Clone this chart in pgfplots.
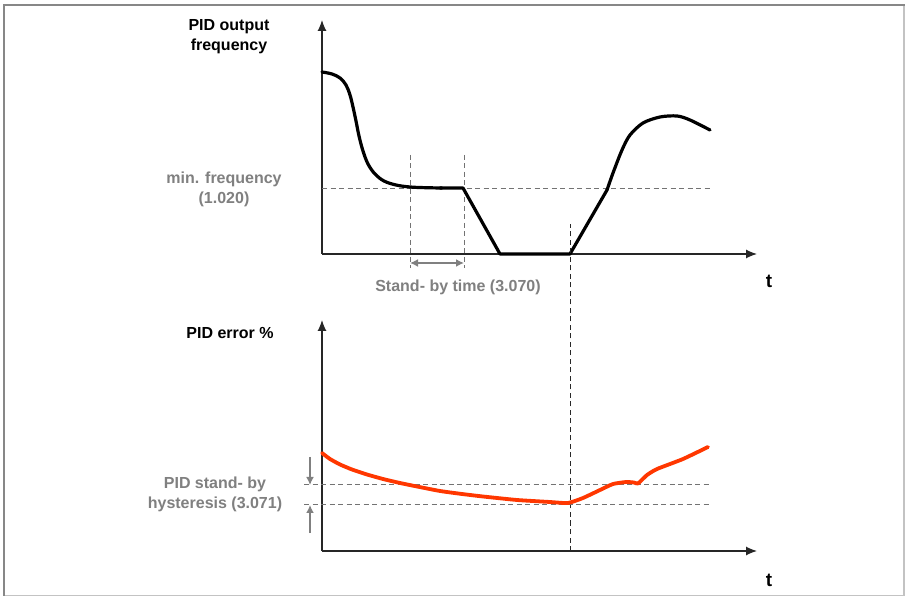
\documentclass[border=0pt]{standalone}
\usepackage{pgfplots}
\pgfplotsset{compat=1.18}
\usepackage{fontspec}
\setmainfont{Liberation Sans}
\usetikzlibrary{arrows.meta}
\definecolor{txtgray}{RGB}{128,128,128}
\definecolor{dashgray}{RGB}{115,115,115}
\definecolor{darkdash}{RGB}{40,40,40}
\definecolor{errred}{RGB}{255,55,0}
\definecolor{frameA}{RGB}{135,135,135}
\definecolor{frameB}{RGB}{195,195,195}
\pgfplotsset{
  sketch/.style={
    scale only axis, clip=false,
    axis lines=left,
    axis line style={line width=1.2pt, black!85, -{Latex[length=11pt,width=9pt]}},
    xtick=\empty, ytick=\empty,
    xmin=0, xmax=435, ymin=0,
    width=435pt,
  },
}
\begin{document}
\begin{tikzpicture}[x=1pt,y=1pt]
\useasboundingbox (0,0) rectangle (907,597);
\fill[white] (0,0) rectangle (907,597);
\draw[frameB, line width=1.5pt] (904,592) -- (904,1.5) -- (4,1.5);
\draw[frameA, line width=2.5pt] (4,1.5) -- (4,592) -- (905,592);

% ---------- upper: PID output frequency ----------
\begin{axis}[sketch, at={(322pt,343pt)}, anchor=south west,
  ymax=234, height=234pt]
  % min frequency level
  \addplot[dashgray, line width=1pt, dash pattern=on 5pt off 3.5pt] coordinates {(0,65) (388,65)};
  % stand-by time markers
  \addplot[dashgray, line width=1pt, dash pattern=on 5pt off 3.5pt] coordinates {(88,99) (88,-14)};
  \addplot[dashgray, line width=1pt, dash pattern=on 5pt off 3.5pt] coordinates {(142,99) (142,-14)};
  \addplot[txtgray, line width=1.6pt, {Latex[length=8pt,width=8pt]}-{Latex[length=8pt,width=8pt]}] coordinates {(88,-9) (142,-9)};
  % output frequency curve
  \addplot[black, line width=3.2pt, smooth, tension=0.6, line cap=round] coordinates {
    (0,182) (10,180) (18,176) (24,169) (28,159) (31,147) (34,133) (37,118)
    (41,103) (46,90) (53,80) (62,73) (74,69) (88,67) (104,66.3) (120,66)};
  \addplot[black, line width=3.2pt, line cap=round, line join=round] coordinates {
    (118,66) (141,66) (178,0) (248,0) (285,64)};
  \addplot[black, line width=3.2pt, smooth, tension=0.5, line cap=round] coordinates {
    (285,64) (291,81) (300,104) (308,119) (321,131) (338,137) (355,138) (368,134) (388,124)};
  \node[font=\fontsize{16}{20}\selectfont\bfseries, align=center] at (axis cs:-93,217) {PID output\\frequency};
  \node[font=\fontsize{16}{20}\selectfont\bfseries, align=center, txtgray] at (axis cs:-98,65) {min. frequency\\(1.020)};
  \node[font=\fontsize{16}{20}\selectfont\bfseries, txtgray] at (axis cs:136,-33) {Stand- by time (3.070)};
  \node[font=\fontsize{19}{20}\selectfont\bfseries] at (axis cs:447,-27) {t};
\end{axis}

% ---------- lower: PID error ----------
\begin{axis}[sketch, at={(322pt,46pt)}, anchor=south west,
  ymax=231, height=231pt]
  \addplot[darkdash, line width=1pt, dash pattern=on 5pt off 3.5pt] coordinates {(248,0) (248,327)};
  \addplot[dashgray, line width=1pt, dash pattern=on 5pt off 3.5pt] coordinates {(-18,66) (388,66)};
  \addplot[dashgray, line width=1pt, dash pattern=on 5pt off 3.5pt] coordinates {(-18,46) (388,46)};
  \addplot[txtgray, line width=1.6pt, -{Latex[length=8pt,width=8pt]}] coordinates {(-12,94) (-12,66)};
  \addplot[txtgray, line width=1.6pt, -{Latex[length=8pt,width=8pt]}] coordinates {(-12,18) (-12,46)};
  \addplot[errred, line width=3.8pt, smooth, tension=0.3, line cap=round, line join=round] coordinates {
    (0,98) (8,92) (18,86.5) (30,81.5) (45,76.5) (61,72) (78,68) (95,64.5) (118,60)
    (140,57) (161,54.5) (195,51) (228,49) (246,48) (261,53) (278,61) (291,67) (304,69)
    (312,68.5) (316,67.5) (325,76) (335,82) (361,92) (386,104)};
  \node[font=\fontsize{16}{20}\selectfont\bfseries] at (axis cs:-92,218) {PID error \%};
  \node[font=\fontsize{16}{20}\selectfont\bfseries, align=center, txtgray] at (axis cs:-107,57) {PID stand- by\\hysteresis (3.071)};
  \node[font=\fontsize{19}{20}\selectfont\bfseries] at (axis cs:447,-29) {t};
\end{axis}
\end{tikzpicture}
\end{document}
